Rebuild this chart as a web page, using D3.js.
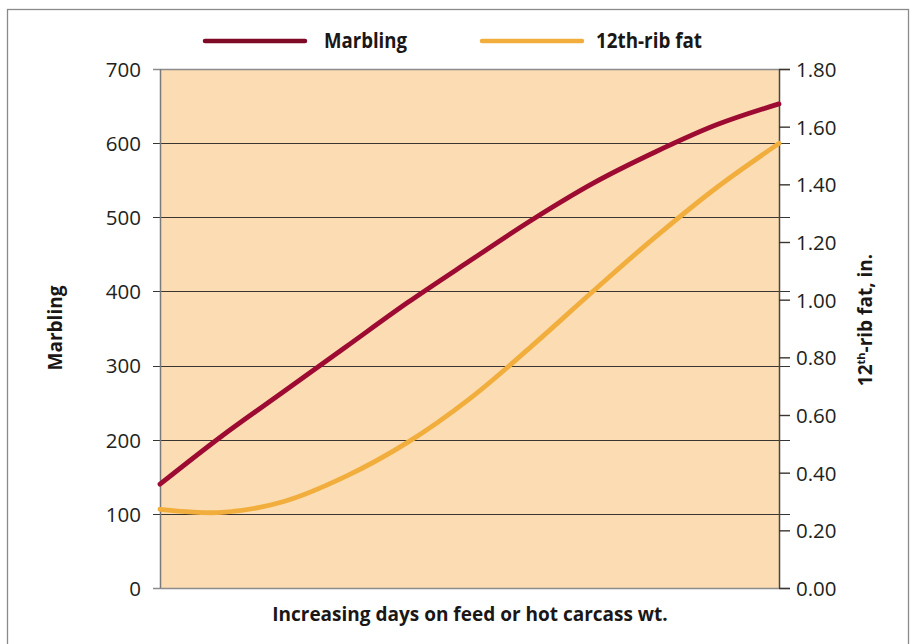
<!DOCTYPE html>
<html><head><meta charset="utf-8">
<script src="https://cdn.jsdelivr.net/npm/d3@7/dist/d3.min.js"></script>
<style>body{margin:0;background:#fff}svg{display:block}</style>
</head><body>
<svg id="c" width="912" height="644"></svg>
<script>
const steps = [0,1,2,3,4,5,6,7,8,9,10];
const marbling = [140, 205, 265, 325, 385, 441, 496, 546, 588, 625, 653];
const ribFat = [0.273, 0.262, 0.300, 0.387, 0.505, 0.656, 0.838, 1.030, 1.217, 1.390, 1.542];
const leftTicks = [0,100,200,300,400,500,600,700];
const rightTicks = [0,0.2,0.4,0.6,0.8,1.0,1.2,1.4,1.6,1.8];
const seriesNames = ["Marbling","12th-rib fat"];
const colors = {marbling:"#9d0b32", fat:"#f2ae3d"};

const svg = d3.select("#c");
const m = {l:160, r:779, t:69, b:588};
const x = d3.scaleLinear().domain([0,10]).range([m.l,m.r]);
const yL = d3.scaleLinear().domain([0,700]).range([m.b,m.t]);
const yR = d3.scaleLinear().domain([0,1.8]).range([m.b,m.t]);

// outer frame
svg.append("rect").attr("x",7.5).attr("y",9.5).attr("width",901).attr("height",700)
  .attr("fill","none").attr("stroke","#8a8a8a").attr("stroke-width",1.3);

// plot background
svg.append("rect").attr("x",m.l).attr("y",m.t).attr("width",m.r-m.l).attr("height",m.b-m.t)
  .attr("fill","#fbdcb3");

// gridlines
const tickFont = "'Open Sans', 'Noto Sans', sans-serif";
svg.append("g").selectAll("line").data(leftTicks).join("line")
  .attr("x1",153).attr("x2",790)
  .attr("y1",d=>Math.round(yL(d))+0.5).attr("y2",d=>Math.round(yL(d))+0.5)
  .attr("stroke",d=>(d===0||d===700)?"#8c8c8c":"#3a3530").attr("stroke-width",d=>(d===0||d===700)?1.6:1.2);

// vertical frame lines
svg.append("line").attr("x1",m.l+0.5).attr("x2",m.l+0.5).attr("y1",m.t).attr("y2",m.b).attr("stroke","#7a7a7a").attr("stroke-width",1.5);
svg.append("line").attr("x1",m.r+0.5).attr("x2",m.r+0.5).attr("y1",m.t).attr("y2",m.b).attr("stroke","#4a4540").attr("stroke-width",1.5);

// left axis
const axL = d3.axisLeft(yL).tickValues(leftTicks).tickSize(0).tickPadding(0).tickFormat(d3.format("d"));
const gL = svg.append("g").attr("transform",`translate(${m.l-19},0)`).call(axL);
gL.select(".domain").remove();
gL.selectAll("text").attr("font-family",tickFont).attr("font-size",20.5).attr("fill","#231f20").attr("dy","0.36em");

// right axis
const axR = d3.axisRight(yR).tickValues(rightTicks).tickSize(11).tickPadding(6).tickFormat(d3.format(".2f"));
const gR = svg.append("g").attr("transform",`translate(${m.r},0)`).call(axR);
gR.select(".domain").remove();
gR.selectAll("line").attr("stroke","#3a3530").attr("stroke-width",1.4);
gR.selectAll("text").attr("font-family",tickFont).attr("font-size",20.5).attr("fill","#231f20").attr("dy","0.36em");

// lines
const lineL = d3.line().x((d,i)=>x(steps[i])).y(d=>yL(d)).curve(d3.curveMonotoneX);
const lineR = d3.line().x((d,i)=>x(steps[i])).y(d=>yR(d)).curve(d3.curveCatmullRom.alpha(0.5));
svg.append("path").attr("d",lineR(ribFat)).attr("fill","none").attr("stroke",colors.fat).attr("stroke-width",4.8).attr("stroke-linecap","round");
svg.append("path").attr("d",lineL(marbling)).attr("fill","none").attr("stroke",colors.marbling).attr("stroke-width",4.8).attr("stroke-linecap","round");

// legend
const legFont = "'Liberation Sans Narrow', 'Open Sans', sans-serif";
const leg = [{name:seriesNames[0],c:"#7f0a27",x1:205,x2:305,tx:324,w:83},{name:seriesNames[1],c:colors.fat,x1:482,x2:582,tx:596,w:106}];
leg.forEach(l=>{
  svg.append("line").attr("x1",l.x1).attr("x2",l.x2).attr("y1",41).attr("y2",41)
    .attr("stroke",l.c).attr("stroke-width",4.5).attr("stroke-linecap","round");
  svg.append("text").attr("x",l.tx).attr("y",48).text(l.name)
    .attr("font-family",legFont).attr("font-weight","bold").attr("font-size",22)
    .attr("textLength",l.w).attr("lengthAdjust","spacingAndGlyphs").attr("fill","#1a1716");
});

// axis titles
const titleFont = "'Open Sans', 'Noto Sans', sans-serif";
svg.append("text").attr("x",470).attr("y",621).attr("text-anchor","middle")
  .attr("font-family",titleFont).attr("font-weight","bold").attr("font-size",19).attr("fill","#1a1716")
  .text("Increasing days on feed or hot carcass wt.");
svg.append("text").attr("transform","translate(62,328) rotate(-90)").attr("text-anchor","middle")
  .attr("font-family",titleFont).attr("font-weight","bold").attr("font-size",19).attr("fill","#1a1716")
  .text("Marbling");
const rt = svg.append("text").attr("transform","translate(872,320) rotate(-90)").attr("text-anchor","middle")
  .attr("font-family",titleFont).attr("font-weight","bold").attr("font-size",19).attr("fill","#1a1716");
rt.append("tspan").text("12");
rt.append("tspan").attr("font-size",11).attr("dy","-0.65em").text("th");
rt.append("tspan").attr("dy","0.4em").text("-rib fat, in.");
</script>
</body></html>
